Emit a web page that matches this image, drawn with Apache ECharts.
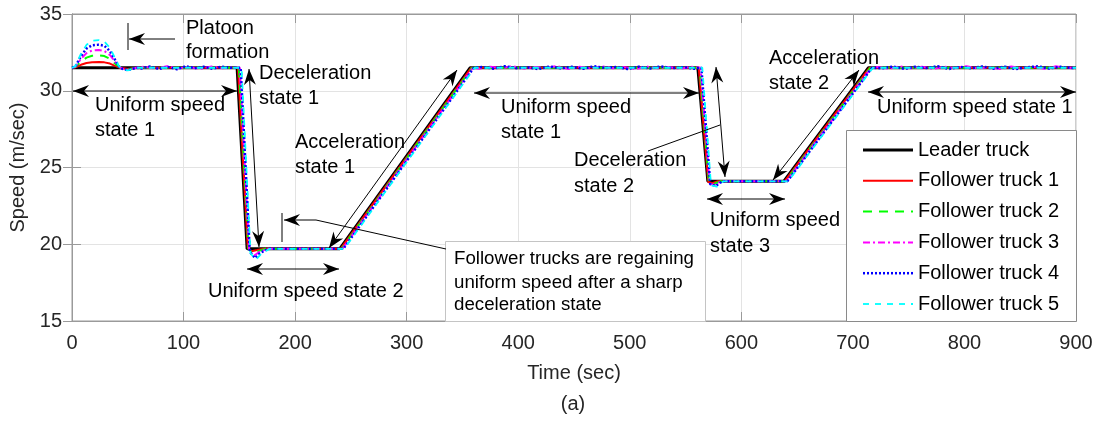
<!DOCTYPE html>
<html>
<head>
<meta charset="utf-8">
<script src="https://cdn.jsdelivr.net/npm/echarts@6/dist/echarts.min.js"></script>
<style>
  html, body { margin: 0; padding: 0; background: #ffffff; }
  #chart { width: 1104px; height: 423px; }
</style>
</head>
<body>
<div id="chart"></div>
<script>
// Speed profiles of a six-truck platoon: [time (s), speed (m/s)]
const seriesNames = ['Leader truck', 'Follower truck 1', 'Follower truck 2',
                     'Follower truck 3', 'Follower truck 4', 'Follower truck 5'];

const leaderTruck = [
  [0, 31.5], [148, 31.5], [157, 19.7], [240, 19.7], [357, 31.5],
  [561, 31.5], [570, 24.1], [638, 24.1], [714, 31.5], [900, 31.5]
];

const followerTruck1 = [
  [0, 31.5], [3, 31.52], [8, 31.69], [13, 31.81], [18, 31.86], [24, 31.87], [29, 31.85],
  [34, 31.77], [38, 31.64], [42, 31.52], [45, 31.48], [50, 31.42], [58, 31.5],
  [148.8, 31.5], [157.6, 19.75], [161, 19.55], [166, 19.62], [171, 19.7],
  [240.8, 19.7], [357.8, 31.5],
  [561.8, 31.5], [570.4, 24.05], [574, 23.98], [579, 24.1],
  [638.8, 24.1], [714.8, 31.5], [900, 31.5]
];

const followerTruck2 = [
  [0, 31.5], [3, 31.54], [8, 31.9], [13, 32.16], [18, 32.28], [24, 32.3], [29, 32.26],
  [34, 32.08], [38, 31.81], [42, 31.55], [45, 31.46], [50, 31.38], [58, 31.5],
  [149.6, 31.5], [158.2, 19.7], [162, 19.4], [167, 19.55], [173, 19.7],
  [241.6, 19.7], [358.6, 31.5],
  [562.6, 31.5], [571, 24.0], [575, 23.92], [581, 24.1],
  [639.6, 24.1], [715.6, 31.5], [900, 31.5]
];

const followerTruck3 = [
  [0, 31.5], [3, 31.56], [8, 32.08], [13, 32.45], [18, 32.62], [24, 32.65], [29, 32.59],
  [34, 32.33], [38, 31.95], [42, 31.57], [45, 31.44], [50, 31.36], [58, 31.5],
  [65, 31.57], [75, 31.44], [85, 31.6], [95, 31.46], [105, 31.55], [115, 31.42],
  [125, 31.58], [135, 31.47], [145, 31.53],
  [150.4, 31.5], [158.8, 19.6], [163, 19.25], [168, 19.5], [175, 19.7],
  [242.4, 19.7], [359.4, 31.5],
  [365, 31.43], [375, 31.57], [385, 31.46], [395, 31.6], [405, 31.44], [415, 31.55],
  [425, 31.48], [435, 31.61], [445, 31.42], [455, 31.56], [465, 31.45], [475, 31.59],
  [485, 31.47], [495, 31.54], [505, 31.41], [515, 31.58], [525, 31.46], [535, 31.55],
  [545, 31.43], [555, 31.57],
  [563.4, 31.5], [571.6, 23.95], [576, 23.85], [582, 24.1],
  [640.4, 24.1], [716.4, 31.5],
  [722, 31.55], [732, 31.44], [742, 31.59], [752, 31.46], [762, 31.57], [772, 31.42],
  [782, 31.56], [792, 31.48], [802, 31.6], [812, 31.45], [822, 31.53], [832, 31.41],
  [842, 31.58], [852, 31.47], [862, 31.55], [872, 31.43], [882, 31.59], [892, 31.5],
  [900, 31.5]
];

const followerTruck4 = [
  [0, 31.5], [3, 31.58], [8, 32.25], [13, 32.75], [18, 32.96], [24, 33.0], [29, 32.93],
  [34, 32.58], [38, 32.09], [42, 31.59], [45, 31.43], [50, 31.34], [58, 31.5],
  [62, 31.45], [70, 31.58], [78, 31.42], [86, 31.55], [94, 31.4], [102, 31.6],
  [110, 31.47], [118, 31.56], [126, 31.43], [134, 31.57], [142, 31.5],
  [151.2, 31.5], [159.4, 19.5], [164, 19.1], [169, 19.45], [176, 19.7],
  [243.2, 19.7], [360.2, 31.5],
  [368, 31.55], [378, 31.44], [388, 31.6], [398, 31.47], [408, 31.53], [418, 31.41],
  [428, 31.58], [438, 31.46], [448, 31.56], [458, 31.43], [468, 31.6], [478, 31.48],
  [488, 31.55], [498, 31.42], [508, 31.57], [518, 31.45], [528, 31.59], [538, 31.47],
  [548, 31.54], [558, 31.44],
  [564.2, 31.5], [572.2, 23.9], [577, 23.8], [583, 24.1],
  [641.2, 24.1], [717.2, 31.5],
  [726, 31.46], [736, 31.58], [746, 31.43], [756, 31.56], [766, 31.48], [776, 31.6],
  [786, 31.42], [796, 31.55], [806, 31.47], [816, 31.58], [826, 31.44], [836, 31.57],
  [846, 31.41], [856, 31.53], [866, 31.59], [876, 31.45], [886, 31.56], [896, 31.48],
  [900, 31.5]
];

const followerTruck5 = [
  [0, 31.5], [3, 31.59], [8, 32.4], [13, 32.99], [18, 33.25], [24, 33.3], [29, 33.21],
  [34, 32.8], [38, 32.2], [42, 31.61], [45, 31.41], [50, 31.32], [58, 31.5],
  [152, 31.5], [160, 19.4], [165, 19.0], [170, 19.4], [177, 19.7],
  [244, 19.7], [361, 31.5],
  [565, 31.5], [572.8, 23.85], [578, 23.75], [584, 24.1],
  [642, 24.1], [718, 31.5], [900, 31.5]
];

const xTickLabels = [0, 100, 200, 300, 400, 500, 600, 700, 800, 900];
const yTickLabels = [15, 20, 25, 30, 35];

// ---------------------------------------------------------------------------
const FONT = '"Liberation Sans", Arial, Helvetica, sans-serif';
const AXIS_GRAY = '#9a9a9a';
const GRID_GRAY = '#e3e3e3';

const allData = [leaderTruck, followerTruck1, followerTruck2,
                 followerTruck3, followerTruck4, followerTruck5];

const lineStyles = [
  { color: '#000000', width: 3, type: 'solid' },
  { color: '#ff0000', width: 2, type: 'solid' },
  { color: '#00ff00', width: 2, type: [9, 7] },
  { color: '#ff00ff', width: 2, type: [7, 3, 2, 3] },
  { color: '#0000ff', width: 2.5, type: [2, 2] },
  { color: '#00ffff', width: 1.8, type: [6, 6] }
];

const series = allData.map((data, i) => ({
  name: seriesNames[i],
  type: 'line',
  data: data,
  showSymbol: false,
  symbol: 'none',
  animation: false,
  z: 2 + i,
  lineStyle: lineStyles[i],
  itemStyle: { color: lineStyles[i].color }
}));

// --- annotation helpers (pixel space) ---
function arrowHead(tipX, tipY, fromX, fromY) {
  const L = 16, W = 6, N = 5;
  const dx = tipX - fromX, dy = tipY - fromY;
  const len = Math.hypot(dx, dy);
  const ux = dx / len, uy = dy / len;
  const px = -uy, py = ux;
  return {
    type: 'polygon',
    z: 20,
    shape: { points: [
      [tipX, tipY],
      [tipX - ux * L + px * W, tipY - uy * L + py * W],
      [tipX - ux * (L - N), tipY - uy * (L - N)],
      [tipX - ux * L - px * W, tipY - uy * L - py * W]
    ] },
    style: { fill: '#000' }
  };
}
function segment(x1, y1, x2, y2) {
  return { type: 'line', z: 20, shape: { x1, y1, x2, y2 },
           style: { stroke: '#000', lineWidth: 1 } };
}
function singleArrow(x1, y1, x2, y2) {
  return [segment(x1, y1, x2, y2), arrowHead(x2, y2, x1, y1)];
}
function doubleArrow(x1, y1, x2, y2) {
  return [segment(x1, y1, x2, y2), arrowHead(x1, y1, x2, y2), arrowHead(x2, y2, x1, y1)];
}
function label(text, x, y, size) {
  return { type: 'text', z: 21, x: x, y: y,
           style: { text: text, fill: '#000', font: (size || 20) + 'px ' + FONT,
                    align: 'left', verticalAlign: 'middle' } };
}

// legend: line samples with each series' own stroke, then its name
const legendItems = [];
seriesNames.forEach((name, i) => {
  const y = 150 + i * 30.8;
  const ls = lineStyles[i];
  legendItems.push({
    type: 'line', z: 31, shape: { x1: 863, y1: y, x2: 913, y2: y },
    style: { stroke: ls.color, lineWidth: ls.width,
             lineDash: Array.isArray(ls.type) ? ls.type : null }
  });
  legendItems.push({
    type: 'text', z: 31, x: 918, y: y,
    style: { text: name, fill: '#000', font: '20px ' + FONT,
             align: 'left', verticalAlign: 'middle' }
  });
});

const graphics = [].concat(
  // platoon formation
  singleArrow(175, 39, 129, 39), [segment(128, 23, 128, 50)],
  [label('Platoon', 186, 28.5), label('formation', 186, 52.5)],
  // uniform speed state 1 (first)
  doubleArrow(73, 91, 237, 91),
  [label('Uniform speed', 95, 105), label('state 1', 95, 130)],
  // deceleration state 1
  doubleArrow(249, 69, 259, 247),
  [label('Deceleration', 259, 73.5), label('state 1', 259, 98.5)],
  // acceleration state 1
  doubleArrow(329, 248, 457, 70),
  [label('Acceleration', 295, 142), label('state 1', 295, 167)],
  // uniform speed state 2
  doubleArrow(247, 269, 339, 269),
  [label('Uniform speed state 2', 208, 291)],
  // regaining note
  singleArrow(316, 220, 284, 220), [segment(282, 213, 282, 242), segment(316, 220, 446, 249)],
  [{ type: 'rect', z: 19, shape: { x: 445.5, y: 241.5, width: 260, height: 80 },
     style: { fill: '#fff', stroke: '#c4c4c4', lineWidth: 1 } }],
  [label('Follower trucks are regaining', 454, 259, 18.7),
   label('uniform speed after a sharp', 454, 283, 18.7),
   label('deceleration state', 454, 305, 18.7)],
  // uniform speed state 1 (second)
  doubleArrow(474, 93, 699, 93),
  [label('Uniform speed', 501, 107), label('state 1', 501, 132)],
  // deceleration state 2
  doubleArrow(716, 67, 725, 177), [segment(648, 151, 720, 125)],
  [label('Deceleration', 574, 160), label('state 2', 574, 186)],
  // uniform speed state 3
  doubleArrow(707, 199, 785, 199),
  [label('Uniform speed', 710, 220), label('state 3', 710, 246)],
  // acceleration state 2
  doubleArrow(773, 180, 859, 70),
  [label('Acceleration', 769, 58), label('state 2', 769, 83)],
  // uniform speed state 1 (third)
  doubleArrow(868, 92, 1076, 92),
  [label('Uniform speed state 1', 877, 107)],
  // legend frame and entries
  [{ type: 'rect', z: 30, shape: { x: 846.5, y: 130.5, width: 230, height: 191 },
     style: { fill: '#fff', stroke: '#8a8a8a', lineWidth: 1 } }],
  legendItems,
  // sub-figure tag
  [{ type: 'text', z: 21, x: 573, y: 404,
     style: { text: '(a)', fill: '#262626', font: '20px ' + FONT,
              align: 'center', verticalAlign: 'middle' } }]
);

const chart = echarts.init(document.getElementById('chart'), null, { renderer: 'canvas' });

const xMin = xTickLabels[0], xMax = xTickLabels[xTickLabels.length - 1];
const yMin = yTickLabels[0], yMax = yTickLabels[yTickLabels.length - 1];
const xStep = xTickLabels[1] - xTickLabels[0];
const yStep = yTickLabels[1] - yTickLabels[0];

chart.setOption({
  animation: false,
  backgroundColor: '#ffffff',
  textStyle: { fontFamily: FONT },
  grid: { left: 72, right: 28, top: 14, bottom: 102, show: true,
          borderColor: AXIS_GRAY, borderWidth: 1, backgroundColor: 'transparent' },
  xAxis: [{
    type: 'value', min: xMin, max: xMax, interval: xStep,
    name: 'Time (sec)', nameLocation: 'middle', nameGap: 42,
    nameTextStyle: { fontSize: 20, color: '#262626', fontFamily: FONT },
    axisLine: { show: true, lineStyle: { color: AXIS_GRAY, width: 1 } },
    axisTick: { show: true, inside: true, length: 9, lineStyle: { color: AXIS_GRAY } },
    axisLabel: { fontSize: 20, color: '#262626', margin: 12, fontFamily: FONT },
    splitLine: { show: true, lineStyle: { color: GRID_GRAY, width: 1 } }
  }, {
    type: 'value', position: 'top', min: xMin, max: xMax, interval: xStep,
    axisLine: { show: true, lineStyle: { color: AXIS_GRAY, width: 1 } },
    axisTick: { show: true, inside: true, length: 9, lineStyle: { color: AXIS_GRAY } },
    axisLabel: { show: false }, splitLine: { show: false }
  }],
  yAxis: [{
    type: 'value', min: yMin, max: yMax, interval: yStep,
    name: 'Speed (m/sec)', nameLocation: 'middle', nameGap: 31,
    nameTextStyle: { fontSize: 20, color: '#262626', fontFamily: FONT },
    axisLine: { show: true, lineStyle: { color: AXIS_GRAY, width: 1 } },
    axisTick: { show: true, inside: true, length: 9, lineStyle: { color: AXIS_GRAY } },
    axisLabel: { fontSize: 20, color: '#262626', margin: 10, fontFamily: FONT },
    splitLine: { show: true, lineStyle: { color: GRID_GRAY, width: 1 } }
  }, {
    type: 'value', position: 'right', min: yMin, max: yMax, interval: yStep,
    axisLine: { show: true, lineStyle: { color: AXIS_GRAY, width: 1 } },
    axisTick: { show: true, inside: true, length: 9, lineStyle: { color: AXIS_GRAY } },
    axisLabel: { show: false }, splitLine: { show: false }
  }],
  series: series,
  graphic: { elements: graphics }
});
</script>
</body>
</html>
